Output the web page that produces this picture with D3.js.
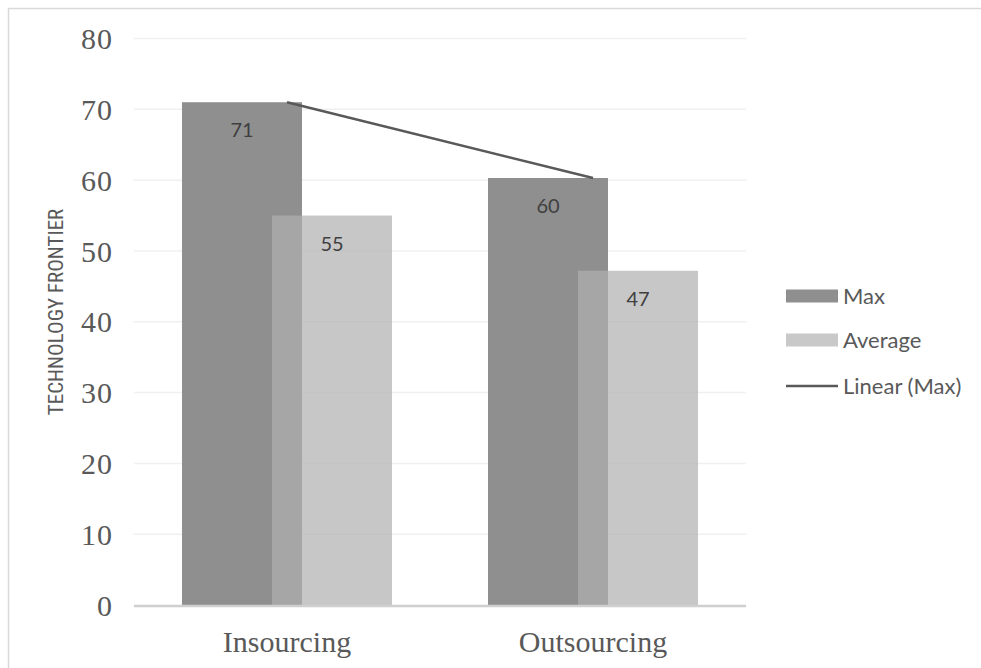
<!DOCTYPE html>
<html>
<head>
<meta charset="utf-8">
<script src="https://cdn.jsdelivr.net/npm/d3@7/dist/d3.min.js"></script>
<style>
  html, body { margin: 0; padding: 0; background: #fff; }
  svg { display: block; }
</style>
</head>
<body>
<svg id="chart" width="981" height="668"></svg>
<script>
// Chart data
const categories = ["Insourcing", "Outsourcing"];
const seriesNames = ["Max", "Average"];
const maxValues = [71, 60.3];
const averageValues = [55, 47.2];
const yTicks = [0, 10, 20, 30, 40, 50, 60, 70, 80];
const trendName = "Linear (Max)";
const yTitle = "TECHNOLOGY FRONTIER";

const W = 981, H = 668;
const plot = { left: 134, right: 746, top: 38.5, bottom: 605 };
const colors = { Max: "#8f8f8f", Average: "rgba(175,175,175,0.70)" };
const serif = "'Liberation Serif', 'Times New Roman', serif";
const sans = "Lato, 'Open Sans', sans-serif";

const svg = d3.select("#chart");

// Frame around the chart area
svg.append("path")
  .attr("d", `M8.5,${H} V8.5 H${W}`)
  .attr("fill", "none")
  .attr("stroke", "#d9d9d9")
  .attr("stroke-width", 1.5);

const x = d3.scaleBand().domain(categories).range([plot.left, plot.right]);
const y = d3.scaleLinear().domain([0, 80]).range([plot.bottom, plot.top]);

// Horizontal gridlines
svg.append("g").selectAll("line")
  .data(yTicks.filter(t => t > 0))
  .join("line")
  .attr("x1", plot.left).attr("x2", plot.right)
  .attr("y1", d => y(d)).attr("y2", d => y(d))
  .attr("stroke", "#f0f0f0")
  .attr("stroke-width", 1.5);

// Y axis tick labels
const yAxis = d3.axisLeft(y).tickValues(yTicks).tickSize(0).tickPadding(0);
const yg = svg.append("g").attr("transform", `translate(${plot.left - 21},0)`).call(yAxis);
yg.select(".domain").remove();
yg.selectAll("text")
  .attr("font-family", serif)
  .attr("font-size", 30)
  .attr("letter-spacing", 1)
  .attr("fill", "#595959")
  .attr("dy", "0.34em");

// Y axis title
svg.append("text")
  .attr("transform", `translate(63,312) rotate(-90)`)
  .attr("text-anchor", "middle")
  .attr("font-family", "'Liberation Sans Narrow', 'Roboto Condensed', 'Liberation Sans', sans-serif")
  .attr("font-size", 21)
  .attr("fill", "#595959")
  .text(yTitle);

// Bar geometry: width 120 per bar, 25% overlap, centred in each band
const barW = 120, step = 90;
const clusterW = barW + step;
const barX = (cat, i) => x(cat) + (x.bandwidth() - clusterW) / 2 + i * step;

const series = [
  { name: "Max", values: maxValues },
  { name: "Average", values: averageValues }
];

series.forEach((s, i) => {
  svg.append("g").selectAll("rect")
    .data(categories.map((c, k) => ({ c, v: s.values[k] })))
    .join("rect")
    .attr("x", d => barX(d.c, i))
    .attr("width", barW)
    .attr("y", d => y(d.v))
    .attr("height", d => y(0) - y(d.v))
    .attr("fill", colors[s.name]);
});

// Data labels
series.forEach((s, i) => {
  svg.append("g").selectAll("text")
    .data(categories.map((c, k) => ({ c, v: s.values[k] })))
    .join("text")
    .attr("x", d => barX(d.c, i) + barW / 2)
    .attr("y", d => y(d.v) + 35)
    .attr("text-anchor", "middle")
    .attr("font-family", sans)
    .attr("font-size", 20)
    .attr("fill", "#404040")
    .text(d => d3.format(".0f")(d.v));
});

// Linear trendline through the Max series
const line = d3.line().x(d => x(d.c) + x.bandwidth() / 2).y(d => y(d.v));
svg.append("path")
  .datum(categories.map((c, k) => ({ c, v: maxValues[k] })))
  .attr("d", line)
  .attr("fill", "none")
  .attr("stroke", "#595959")
  .attr("stroke-width", 2.5);

// Category axis
svg.append("line")
  .attr("x1", plot.left).attr("x2", plot.right)
  .attr("y1", plot.bottom + 1).attr("y2", plot.bottom + 1)
  .attr("stroke", "#cfcfcf")
  .attr("stroke-width", 2.5);

const xAxis = d3.axisBottom(x).tickSize(0).tickPadding(0);
const xg = svg.append("g").attr("transform", `translate(0,${plot.bottom + 47})`).call(xAxis);
xg.select(".domain").remove();
xg.selectAll("text")
  .attr("font-family", serif)
  .attr("font-size", 30)
  .attr("fill", "#595959")
  .attr("dy", "0");

// Legend
const legend = svg.append("g").attr("transform", "translate(786,0)");
const legendItems = [
  { name: "Max", type: "rect", color: "#8f8f8f", cy: 296 },
  { name: "Average", type: "rect", color: "#c9c9c9", cy: 340 },
  { name: trendName, type: "line", color: "#595959", cy: 386 }
];
legendItems.forEach(it => {
  if (it.type === "rect") {
    legend.append("rect")
      .attr("x", 0).attr("y", it.cy - 6.5)
      .attr("width", 52).attr("height", 13)
      .attr("fill", it.color);
  } else {
    legend.append("line")
      .attr("x1", 0).attr("x2", 52)
      .attr("y1", it.cy).attr("y2", it.cy)
      .attr("stroke", it.color)
      .attr("stroke-width", 2.5);
  }
  legend.append("text")
    .attr("x", 57).attr("y", it.cy)
    .attr("dy", "0.36em")
    .attr("font-family", sans)
    .attr("font-size", 22)
    .attr("fill", "#595959")
    .text(it.name);
});
</script>
</body>
</html>
